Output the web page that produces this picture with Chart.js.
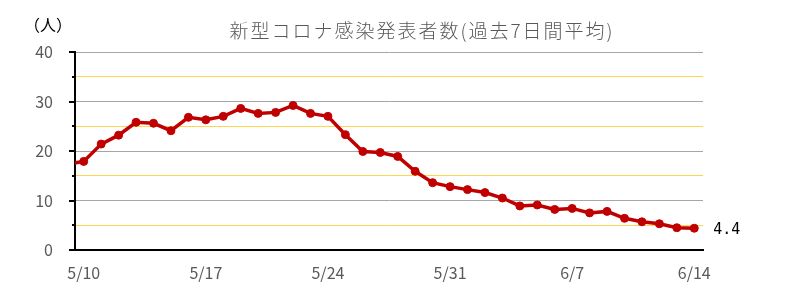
<!DOCTYPE html>
<html>
<head>
<meta charset="utf-8">
<script src="https://cdn.jsdelivr.net/npm/chart.js@4"></script>
<style>
  html, body { margin: 0; padding: 0; background: #fff; }
  #wrap { width: 791px; height: 288px; position: relative; }
</style>
</head>
<body>
<div id="wrap"><canvas id="chart"></canvas></div>
<script>
// Data (index 0 = 5/9, clipped at the left edge of the plot)
const dates = ['5/9', '5/10', '5/11', '5/12', '5/13', '5/14', '5/15', '5/16', '5/17', '5/18',
    '5/19', '5/20', '5/21', '5/22', '5/23', '5/24', '5/25', '5/26', '5/27', '5/28',
    '5/29', '5/30', '5/31', '6/1', '6/2', '6/3', '6/4', '6/5', '6/6', '6/7',
    '6/8', '6/9', '6/10', '6/11', '6/12', '6/13', '6/14'];
const avg7 = [17.3, 17.9, 21.4, 23.2, 25.8, 25.6, 24.1, 26.8, 26.3, 27.0,
    28.6, 27.6, 27.8, 29.2, 27.6, 27.0, 23.3, 19.9, 19.7, 18.9,
    15.9, 13.6, 12.8, 12.2, 11.6, 10.5, 8.9, 9.1, 8.2, 8.4,
    7.5, 7.8, 6.4, 5.7, 5.3, 4.5, 4.4];
const xTickIdx = [1, 8, 15, 22, 29, 36];
const yTicks = [0, 5, 10, 15, 20, 25, 30, 35, 40];

const titleText = '新型コロナ感染発表者数(過去7日間平均)';
const unitText = '（人）';
const jpFont = '"Noto Sans CJK JP", "Noto Sans", sans-serif';

// Title, unit label, y tick marks and last value label
const extras = {
    id: 'extras',
    afterDraw(chart) {
        const ctx = chart.ctx;
        const y = chart.scales.y;
        ctx.save();
        // y tick marks
        ctx.strokeStyle = '#000';
        ctx.lineWidth = 2;
        yTicks.forEach(v => {
            const py = Math.round(y.getPixelForValue(v));
            const len = v % 10 === 0 ? 6 : 3;
            ctx.beginPath();
            ctx.moveTo(y.right - len, py);
            ctx.lineTo(y.right, py);
            ctx.stroke();
        });
        // title
        ctx.fillStyle = '#595959';
        ctx.font = '300 19px ' + jpFont;
        ctx.letterSpacing = '2px';
        ctx.textAlign = 'center';
        ctx.textBaseline = 'middle';
        ctx.fillText(titleText, 422, 31);
        ctx.letterSpacing = '0px';
        // unit
        ctx.fillStyle = '#000';
        ctx.font = '16px ' + jpFont;
        ctx.textAlign = 'center';
        ctx.fillText(unitText, 48, 25);
        // last value label
        const meta = chart.getDatasetMeta(0);
        const last = meta.data[meta.data.length - 1];
        ctx.font = '15px "DejaVu Sans Mono", monospace';
        ctx.textAlign = 'left';
        ctx.fillText(avg7[avg7.length - 1].toFixed(1), last.x + 19, last.y + 2);
        ctx.restore();
    }
};

new Chart(document.getElementById('chart'), {
    type: 'line',
    data: {
        datasets: [{
            data: avg7.map((v, i) => ({ x: i, y: v })),
            borderColor: '#c00000',
            backgroundColor: '#c00000',
            borderWidth: 3.5,
            pointRadius: 4,
            pointBorderWidth: 1,
            tension: 0,
            clip: 0
        }]
    },
    options: {
        responsive: true,
        maintainAspectRatio: false,
        animation: false,
        layout: { padding: { left: 0, right: 88, top: 52, bottom: 0 } },
        plugins: {
            legend: { display: false },
            tooltip: { enabled: false }
        },
        scales: {
            x: {
                type: 'linear',
                min: 0.5,
                max: 36.5,
                afterBuildTicks: axis => { axis.ticks = xTickIdx.map(v => ({ value: v })); },
                afterFit: axis => { axis.height = 38; },
                grid: { display: false, drawTicks: false },
                border: { display: true, color: '#000', width: 2 },
                ticks: {
                    autoSkip: false,
                    maxRotation: 0,
                    padding: 13,
                    color: '#595959',
                    font: { size: 16, family: jpFont },
                    callback: v => dates[v] || ''
                }
            },
            y: {
                min: 0,
                max: 40,
                afterBuildTicks: axis => { axis.ticks = yTicks.map(v => ({ value: v })); },
                afterFit: axis => { axis.width = 75; },
                grid: {
                    drawTicks: false,
                    color: c => (c.tick && c.tick.value % 10 === 0) ? '#a6a6a6' : '#ffd54f',
                    lineWidth: 1
                },
                border: { display: true, color: '#000', width: 2 },
                ticks: {
                    padding: 22,
                    color: '#595959',
                    font: { size: 16, family: jpFont },
                    callback: v => v % 10 === 0 ? v : ''
                }
            }
        }
    },
    plugins: [extras]
});
</script>
</body>
</html>
